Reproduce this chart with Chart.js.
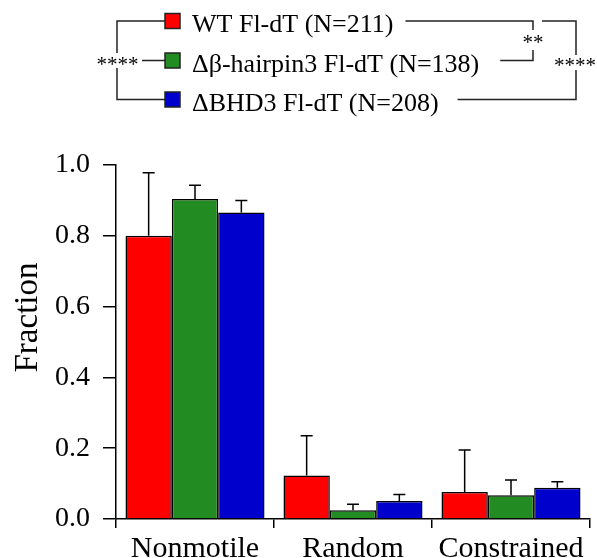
<!DOCTYPE html>
<html>
<head>
<meta charset="utf-8">
<script src="https://cdn.jsdelivr.net/npm/chart.js@4"></script>
<style>
  body { margin: 0; background: #fff; }
  canvas { display: block; }
</style>
</head>
<body>
<canvas id="myChart" width="597" height="558"></canvas>
<script>
const categories = ["Nonmotile", "Random", "Constrained"];
const seriesNames = ["WT Fl-dT (N=211)", "Δβ-hairpin3 Fl-dT (N=138)", "ΔBHD3 Fl-dT (N=208)"];
const wtValues = [0.80, 0.123, 0.076];
const hairpinValues = [0.904, 0.025, 0.067];
const bhdValues = [0.866, 0.051, 0.088];
// upper error (SD) for each bar
const wtErrors = [0.178, 0.112, 0.119];
const hairpinErrors = [0.039, 0.017, 0.043];
const bhdErrors = [0.034, 0.018, 0.017];
const tickLabels = ["0.0", "0.2", "0.4", "0.6", "0.8", "1.0"];

const serif = "'Liberation Serif', 'Times New Roman', serif";
const colors = ["#ff0000", "#228b22", "#0000cd"];
const errors = [wtErrors, hairpinErrors, bhdErrors];

// upper error bars with caps
const errorBars = {
  id: "errorBars",
  afterDatasetsDraw(chart) {
    const ctx = chart.ctx;
    const y = chart.scales.y;
    ctx.save();
    ctx.strokeStyle = "#000";
    ctx.lineWidth = 1.5;
    chart.data.datasets.forEach(function (ds, i) {
      chart.getDatasetMeta(i).data.forEach(function (bar, j) {
        const top = y.getPixelForValue(ds.data[j] + errors[i][j]);
        ctx.beginPath();
        ctx.moveTo(bar.x, bar.y);
        ctx.lineTo(bar.x, top);
        ctx.moveTo(bar.x - 6, top);
        ctx.lineTo(bar.x + 6, top);
        ctx.stroke();
      });
    });
    ctx.restore();
  },
};

// legend + significance brackets, y axis title
const legendBox = {
  id: "legendBox",
  afterDraw(chart) {
    const ctx = chart.ctx;
    const rows = [21, 60.5, 99.5];
    const textX = 192;
    const ends = [];
    ctx.save();
    ctx.font = "26px " + serif;
    ctx.textBaseline = "alphabetic";
    ctx.fillStyle = "#000";
    chart.data.datasets.forEach(function (ds, i) {
      ctx.fillStyle = ds.backgroundColor;
      ctx.fillRect(165, rows[i] - 7.5, 15, 15);
      ctx.strokeStyle = "#222";
      ctx.lineWidth = 1.5;
      ctx.strokeRect(165, rows[i] - 7.5, 15, 15);
      ctx.fillStyle = "#000";
      ctx.fillText(ds.label, textX, rows[i] + 11);
      ends.push(textX + ctx.measureText(ds.label).width);
    });

    ctx.strokeStyle = "#222";
    ctx.lineWidth = 1.5;
    ctx.beginPath();
    // left bracket: WT vs BHD3
    ctx.moveTo(165, rows[0]);
    ctx.lineTo(117, rows[0]);
    ctx.lineTo(117, 53);
    ctx.moveTo(117, 68);
    ctx.lineTo(117, rows[2]);
    ctx.lineTo(165, rows[2]);
    ctx.moveTo(142, rows[1]);
    ctx.lineTo(165, rows[1]);
    // WT vs hairpin
    ctx.moveTo(ends[0] + 12, rows[0]);
    ctx.lineTo(533, rows[0]);
    ctx.lineTo(533, 30);
    ctx.moveTo(533, 50);
    ctx.lineTo(533, rows[1]);
    ctx.lineTo(ends[1] + 21, rows[1]);
    // hairpin vs BHD3
    ctx.moveTo(542, rows[0]);
    ctx.lineTo(576, rows[0]);
    ctx.lineTo(576, 55);
    ctx.moveTo(576, 70);
    ctx.lineTo(576, rows[2]);
    ctx.lineTo(ends[2] + 19, rows[2]);
    ctx.stroke();

    ctx.font = "21px " + serif;
    ctx.textAlign = "center";
    ctx.fillText("****", 117.5, 71);
    ctx.fillText("**", 533, 49);
    ctx.fillText("****", 575, 72);

    ctx.font = "33px " + serif;
    ctx.translate(37, 317.5);
    ctx.rotate(-Math.PI / 2);
    ctx.fillText("Fraction", 0, 0);
    ctx.restore();
  },
};

const data = {
  labels: categories,
  datasets: [
    { label: seriesNames[0], data: wtValues, backgroundColor: colors[0] },
    { label: seriesNames[1], data: hairpinValues, backgroundColor: colors[1] },
    { label: seriesNames[2], data: bhdValues, backgroundColor: colors[2] },
  ].map(function (ds) {
    ds.borderColor = "#000";
    ds.borderWidth = 1.5;
    ds.categoryPercentage = 0.88;
    ds.barPercentage = 1;
    return ds;
  }),
};

const config = {
  type: "bar",
  data: data,
  options: {
    responsive: false,
    animation: false,
    devicePixelRatio: 1,
    layout: { padding: { top: 165, right: 7, left: 0, bottom: 0 } },
    plugins: {
      legend: { display: false },
      tooltip: { enabled: false },
    },
    scales: {
      x: {
        afterFit(scale) { scale.height = 39; },
        grid: { offset: true, drawOnChartArea: false, tickLength: 9, color: "#000", lineWidth: 1.5 },
        border: { color: "#000", width: 1.5 },
        ticks: { color: "#000", padding: 6, font: { family: serif, size: 30, lineHeight: 1 } },
      },
      y: {
        min: 0,
        max: 1,
        afterFit(scale) { scale.width = 116; },
        grid: { drawOnChartArea: false, tickLength: 13, color: "#000", lineWidth: 1.5 },
        border: { color: "#000", width: 1.5 },
        ticks: {
          stepSize: 0.2,
          color: "#000",
          padding: 13,
          font: { family: serif, size: 28 },
          callback: function (v, i) { return tickLabels[i]; },
        },
      },
    },
  },
  plugins: [errorBars, legendBox],
};

const myChart = new Chart(document.getElementById("myChart"), config);
</script>
</body>
</html>
